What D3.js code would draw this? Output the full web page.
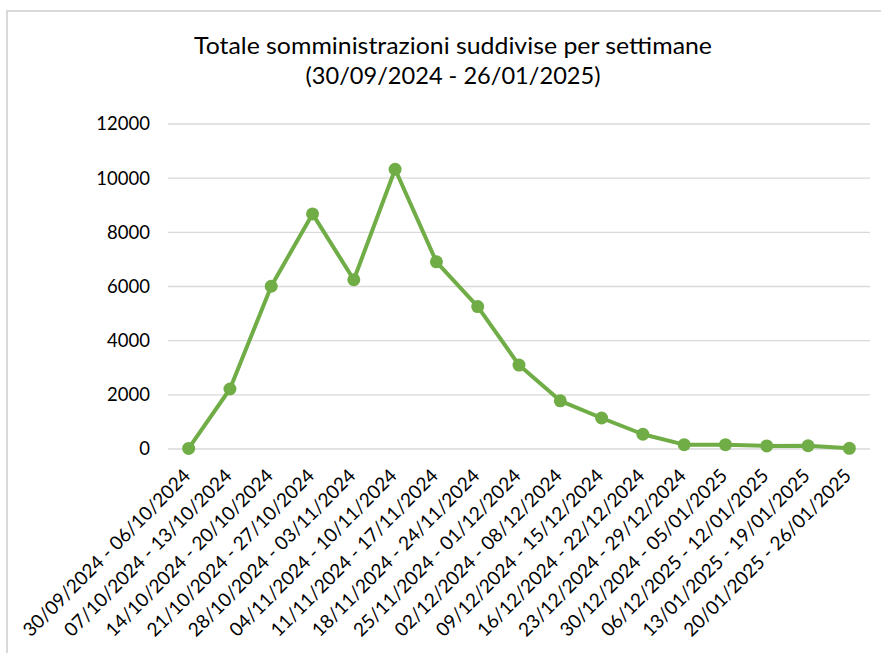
<!DOCTYPE html>
<html>
<head>
<meta charset="utf-8">
<script src="https://cdn.jsdelivr.net/npm/d3@7"></script>
<style>
    body { margin: 0; background: #fff; }
    text { font-family: Lato, "Open Sans", sans-serif; fill: #000; }
</style>
</head>
<body>
<svg id="chart" width="881" height="653"></svg>
<script>
const weeks = [
    '30/09/2024 - 06/10/2024', '07/10/2024 - 13/10/2024', '14/10/2024 - 20/10/2024',
    '21/10/2024 - 27/10/2024', '28/10/2024 - 03/11/2024', '04/11/2024 - 10/11/2024',
    '11/11/2024 - 17/11/2024', '18/11/2024 - 24/11/2024', '25/11/2024 - 01/12/2024',
    '02/12/2024 - 08/12/2024', '09/12/2024 - 15/12/2024', '16/12/2024 - 22/12/2024',
    '23/12/2024 - 29/12/2024', '30/12/2024 - 05/01/2025', '06/12/2025 - 12/01/2025',
    '13/01/2025 - 19/01/2025', '20/01/2025 - 26/01/2025'
]
const totals = [20, 2215, 6010, 8680, 6250, 10330, 6910, 5260, 3100, 1780, 1145, 545, 160, 160, 115, 120, 25]
const yTicks = [0, 2000, 4000, 6000, 8000, 10000, 12000]
const titleLines = ['Totale somministrazioni suddivise per settimane', '(30/09/2024 - 26/01/2025)']
const titleWidths = [518, 295]

const svg = d3.select('#chart')
const data = weeks.map((w, i) => ({ week: w, value: totals[i] }))

// chart frame
svg.append('rect')
    .attr('x', 7).attr('y', 11)
    .attr('width', 890).attr('height', 660)
    .attr('fill', 'none')
    .attr('stroke', '#d9d9d9')
    .attr('stroke-width', 2)

svg.selectAll('.title')
    .data(titleLines)
    .enter()
    .append('text')
    .attr('class', 'title')
    .attr('x', 453)
    .attr('y', (d, i) => 54 + i * 30)
    .attr('text-anchor', 'middle')
    .attr('font-size', 24)
    .attr('textLength', (d, i) => titleWidths[i])
    .attr('lengthAdjust', 'spacingAndGlyphs')
    .text((d) => d)

const x = d3.scaleBand().domain(weeks).range([168, 870])
const y = d3.scaleLinear().domain([0, 12000]).range([449, 124])

// grid lines
svg.append('g')
    .selectAll('line')
    .data(yTicks)
    .enter()
    .append('line')
    .attr('x1', 168).attr('x2', 870)
    .attr('y1', (d) => y(d)).attr('y2', (d) => y(d))
    .attr('stroke', '#d9d9d9')
    .attr('stroke-width', 1.3)

const yAxis = svg.append('g')
    .attr('transform', 'translate(150,0)')
    .call(d3.axisLeft(y).tickValues(yTicks).tickSize(0).tickPadding(0).tickFormat(d3.format('d')))
yAxis.select('.domain').remove()
yAxis.selectAll('text')
    .attr('font-size', 18.5)
    .attr('font-family', 'Lato')
    .attr('fill', '#000')

const xAxis = svg.append('g')
    .attr('transform', 'translate(0,449)')
    .call(d3.axisBottom(x).tickSize(0).tickPadding(0))
xAxis.select('.domain').remove()
xAxis.selectAll('text')
    .attr('font-size', 19)
    .attr('font-family', 'Lato')
    .attr('fill', '#000')
    .attr('text-anchor', 'end')
    .attr('dy', 0)
    .attr('transform', 'translate(3,28) rotate(-45)')

const cx = (d) => x(d.week) + x.bandwidth() / 2

svg.append('path')
    .datum(data)
    .attr('fill', 'none')
    .attr('stroke', '#70ad47')
    .attr('stroke-width', 4)
    .attr('stroke-linejoin', 'round')
    .attr('d', d3.line().x(cx).y((d) => y(d.value)))

svg.selectAll('.dot')
    .data(data)
    .enter()
    .append('circle')
    .attr('class', 'dot')
    .attr('cx', cx)
    .attr('cy', (d) => y(d.value))
    .attr('r', 6.5)
    .attr('fill', '#70ad47')
</script>
</body>
</html>
